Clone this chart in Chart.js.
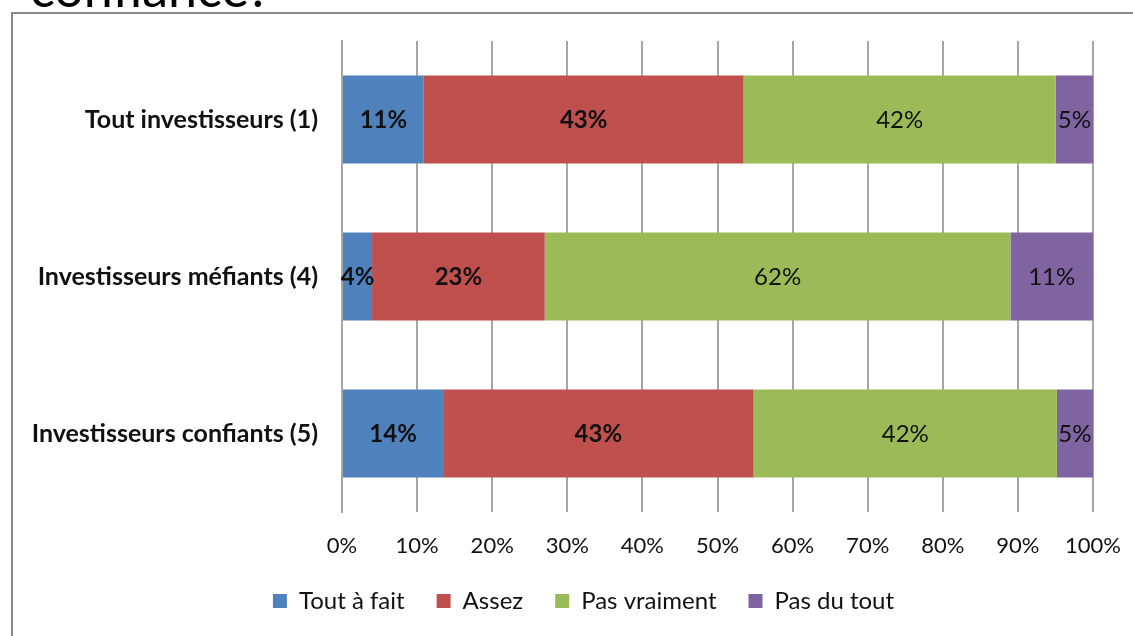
<!DOCTYPE html>
<html>
<head>
<meta charset="utf-8">
<script src="https://cdn.jsdelivr.net/npm/chart.js@4.4.0/dist/chart.umd.min.js"></script>
<style>
  html, body { margin: 0; padding: 0; background: #fff; overflow: hidden; }
  body { width: 1133px; height: 636px; position: relative; }
  #title {
    position: absolute; left: 30px; top: -39px;
    font: 52px Lato, sans-serif; line-height: 52px; color: #000;
  }
  #frame {
    position: absolute; left: 11px; top: 12px; width: 1140px; height: 640px;
    border: 2px solid #8a8a8a; box-sizing: border-box;
  }
  #wrap { position: absolute; left: 14px; top: 14px; width: 1119px; height: 622px; }
</style>
</head>
<body>
<div id="title">confiance?</div>
<div id="frame"></div>
<div id="wrap"><canvas id="chart"></canvas></div>
<script>
const categories = ['Tout investisseurs (1)', 'Investisseurs méfiants (4)', 'Investisseurs confiants (5)'];
const seriesNames = ['Tout à fait', 'Assez', 'Pas vraiment', 'Pas du tout'];
const colors = ['#4f81bd', '#c0504d', '#9bbb59', '#8064a2'];

// percentages as printed on the bars
const toutAFait = [11, 4, 14];
const assez = [43, 23, 43];
const pasVraiment = [42, 62, 42];
const pasDuTout = [5, 11, 5];
const xTicks = [0, 10, 20, 30, 40, 50, 60, 70, 80, 90, 100];

const raw = [toutAFait, assez, pasVraiment, pasDuTout];
// 100% stacked: each row scaled to its own total, like Excel does
const rowTotals = categories.map((c, i) => raw.reduce((s, arr) => s + arr[i], 0));

const datasets = raw.map((arr, k) => ({
  label: seriesNames[k],
  data: arr.map((v, i) => v / rowTotals[i] * 100),
  raw: arr,
  backgroundColor: colors[k],
  borderWidth: 0,
  categoryPercentage: 1,
  barPercentage: 0.56
}));

const barLabels = {
  id: 'barLabels',
  afterDatasetsDraw(chart) {
    const ctx = chart.ctx;
    ctx.save();
    ctx.fillStyle = '#111';
    ctx.textAlign = 'center';
    ctx.textBaseline = 'middle';
    chart.data.datasets.forEach((ds, k) => {
      const meta = chart.getDatasetMeta(k);
      ctx.font = (k < 2 ? 'bold ' : '') + '24px Lato, sans-serif';
      meta.data.forEach((el, i) => {
        const cx = (el.x + el.base) / 2;
        ctx.fillText(ds.raw[i] + '%', cx, el.y + 1);
      });
    });
    ctx.restore();
  }
};

// Excel put the legend a bit right of centre
const legendShift = {
  id: 'legendShift',
  afterLayout(chart) {
    chart.legend.left += 30;
    chart.legend.right += 30;
  }
};

new Chart(document.getElementById('chart'), {
  type: 'bar',
  data: { labels: categories, datasets: datasets },
  options: {
    indexAxis: 'y',
    responsive: true,
    maintainAspectRatio: false,
    animation: false,
    layout: { padding: { left: 0, right: 40, top: 27, bottom: 13 } },
    scales: {
      x: {
        stacked: true,
        min: 0, max: 100,
        afterBuildTicks: (scale) => { scale.ticks = xTicks.map(v => ({ value: v })); },
        afterFit: (scale) => {
          scale.height = 45;
          scale.paddingLeft = 0;
          scale.paddingRight = 0;
        },
        grid: { color: '#a6a6a6', lineWidth: 2, drawTicks: false },
        border: { display: false },
        ticks: {
          padding: 21,
          color: '#111',
          font: { family: 'Lato, sans-serif', size: 22 },
          callback: (v) => v + '%'
        }
      },
      y: {
        stacked: true,
        afterFit: (scale) => {
          scale.width = 328;
          scale.paddingTop = 0;
          scale.paddingBottom = 0;
        },
        grid: { display: false, drawTicks: false },
        border: { display: true, color: '#a6a6a6', width: 2 },
        ticks: {
          padding: 24,
          color: '#111',
          font: { family: 'Lato, sans-serif', size: 25, weight: 'bold' }
        }
      }
    },
    plugins: {
      legend: {
        position: 'bottom',
        labels: {
          boxWidth: 14, boxHeight: 14, padding: 32,
          color: '#111',
          font: { family: 'Lato, sans-serif', size: 24 }
        }
      },
      tooltip: { enabled: false }
    }
  },
  plugins: [barLabels, legendShift]
});
</script>
</body>
</html>
